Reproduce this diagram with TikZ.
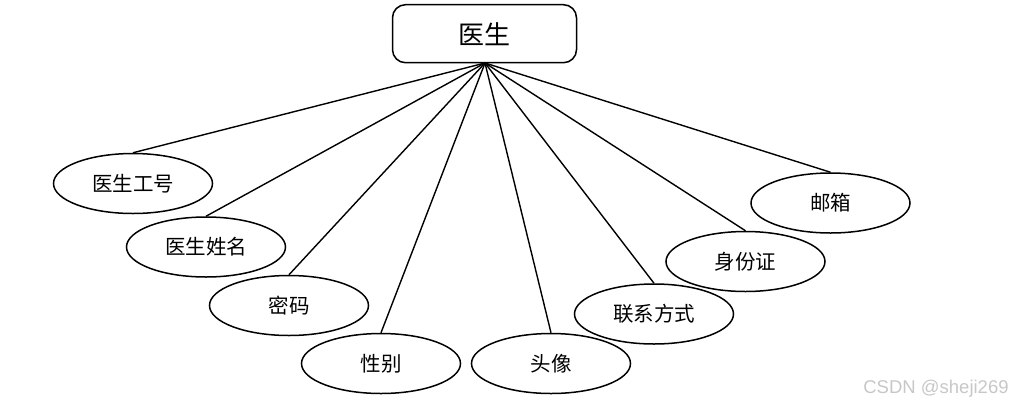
\documentclass[tikz,border=0pt]{standalone}
\usepackage{fontspec}
\newfontfamily\cjk{Noto Sans CJK SC}
\newfontfamily\wm{Liberation Sans}
\usetikzlibrary{shapes.geometric}
\begin{document}
\begin{tikzpicture}[x=1pt,y=-1pt,
  attr/.style={ellipse,draw,line width=1.5pt,minimum width=159pt,minimum height=60pt,inner sep=0pt,font=\cjk\fontsize{20.5}{20.5}\selectfont},
  ent/.style={rectangle,rounded corners=13pt,draw,line width=1.5pt,minimum width=184pt,minimum height=58pt,inner sep=0pt,font=\cjk\fontsize{26}{26}\selectfont},
  link/.style={line width=1.4pt}]
\useasboundingbox (0,0) rectangle (1013,408);
\node[ent] (doc) at (484.5,33.7) {医生};
\coordinate (hub) at (485,63);
\node[attr] (a1) at (133,183.5) {医生工号};
\node[attr] (a2) at (206,247) {医生姓名};
\node[attr] (a3) at (289,305.5) {密码};
\node[attr] (a4) at (381,363.5) {性别};
\node[attr] (a5) at (551,363.5) {头像};
\node[attr] (a6) at (654,314) {联系方式};
\node[attr] (a7) at (745.5,261.5) {身份证};
\node[attr] (a8) at (830.5,203) {邮箱};
\foreach \n in {a1,a2,a3,a4,a5,a6,a7,a8}{\draw[link] (hub) -- (\n.north);}
\node[font=\wm\fontsize{18.5}{18.5}\selectfont,text=black!22,inner sep=0pt] (wmk) at (936,389) {CSDN @sheji269};
\end{tikzpicture}
\end{document}
